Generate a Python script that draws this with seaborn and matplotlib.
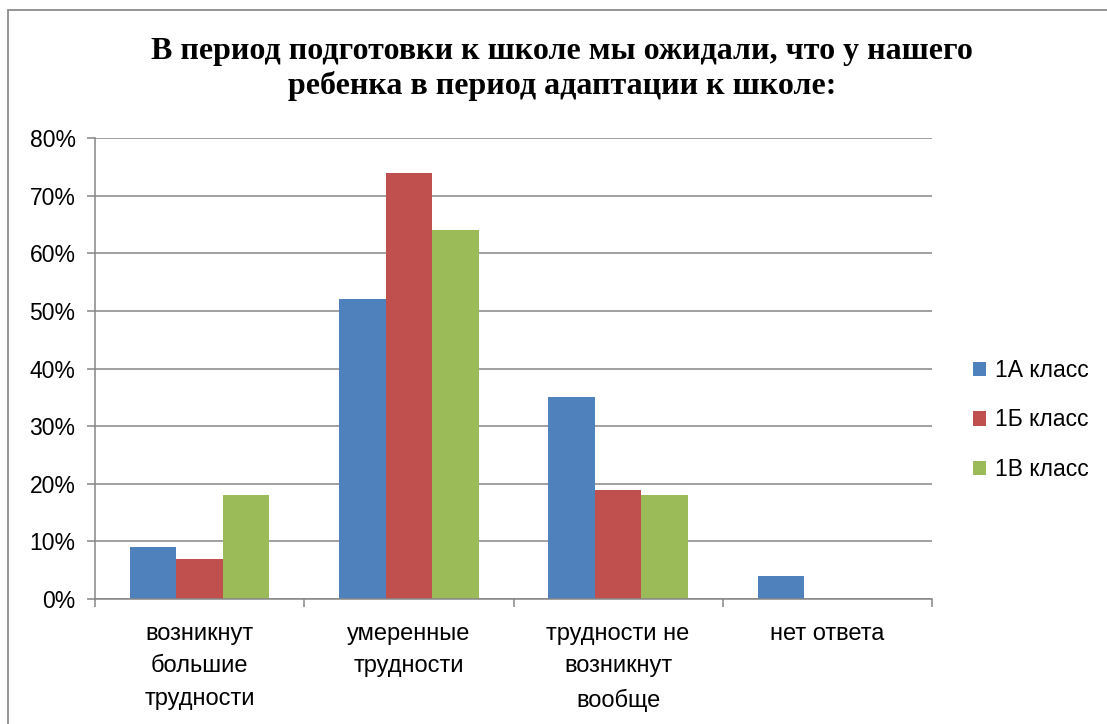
import pandas as pd
import matplotlib.pyplot as plt
import seaborn as sns
from matplotlib.ticker import FixedLocator, PercentFormatter
from matplotlib.patches import Rectangle

# данные с диаграммы
categories = ['возникнут\nбольшие\nтрудности', 'умеренные\nтрудности',
              'трудности не\nвозникнут\nвообще', 'нет ответа']
classes = ['1А класс', '1Б класс', '1В класс']
val_1a = [9, 52, 35, 4]
val_1b = [7, 74, 19, 0]
val_1v = [18, 64, 18, 0]
colors = ['#4F81BD', '#C0504D', '#9BBB59']

title = 'В период подготовки к школе мы ожидали, что у нашего\nребенка в период адаптации к школе:'

df = pd.DataFrame({
    'cat': categories * 3,
    'cls': [classes[0]] * 4 + [classes[1]] * 4 + [classes[2]] * 4,
    'val': [v / 100 for v in val_1a + val_1b + val_1v],
})

sns.set_style('white')
plt.rcParams['font.family'] = ['Liberation Sans', 'DejaVu Sans']
plt.rcParams['text.color'] = 'black'
plt.rcParams['xtick.labelcolor'] = 'black'
plt.rcParams['ytick.labelcolor'] = 'black'

fig = plt.figure(figsize=(11.07, 7.24), dpi=100)
ax = fig.add_axes([95 / 1107, 1 - 599 / 724, (932 - 95) / 1107, (599 - 138) / 724])

sns.barplot(data=df, x='cat', y='val', hue='cls', palette=colors, width=0.667,
            gap=0, saturation=1, linewidth=0, ax=ax, legend=True)

ax.set_ylim(0, 0.8)
ax.set_xlim(-0.5, 3.5)
ax.yaxis.set_major_locator(FixedLocator([i / 10 for i in range(9)]))
ax.yaxis.set_major_formatter(PercentFormatter(1.0, decimals=0))
ax.grid(axis='y', color='#868686', linewidth=1.1)
ax.set_axisbelow(True)
ax.set_xlabel('')
ax.set_ylabel('')

for s in ['top', 'right']:
    ax.spines[s].set_visible(False)
for s in ['left', 'bottom']:
    ax.spines[s].set_color('#868686')
    ax.spines[s].set_linewidth(1.1)

ax.tick_params(axis='y', left=True, length=6, width=1.1, color='#868686', pad=8, labelsize=16.5,
               labelcolor='black')
ax.tick_params(axis='x', which='major', length=0, pad=17, labelsize=17, labelcolor='black')
ax.xaxis.set_minor_locator(FixedLocator([-0.5, 0.5, 1.5, 2.5, 3.5]))
ax.tick_params(axis='x', which='minor', bottom=True, length=6, width=1.1, color='#868686')
for lbl in ax.get_xticklabels():
    lbl.set_linespacing(1.64)

handles, labels = ax.get_legend_handles_labels()
ax.get_legend().remove()
fig.legend(handles, labels, loc='center left', bbox_to_anchor=(973 / 1107, 1 - 420 / 724),
           frameon=False, fontsize=16.5, handlelength=0.58, handleheight=0.58,
           handletextpad=0.4, labelspacing=1.15, borderpad=0, borderaxespad=0,
           labelcolor='black')

fig.text(0.508, 1 - 69 / 724, title, ha='center', va='center', fontsize=23, color='black',
         fontweight='bold', family=['Liberation Serif', 'DejaVu Serif'], linespacing=1.25)

# рамка диаграммы
fig.patches.append(Rectangle((8 / 1107, -0.1), 1.2, 1 - 10 / 724 + 0.1, transform=fig.transFigure,
                             fill=False, edgecolor='#8c8c8c', linewidth=1.3))

fig.savefig('out.png', dpi=100)
